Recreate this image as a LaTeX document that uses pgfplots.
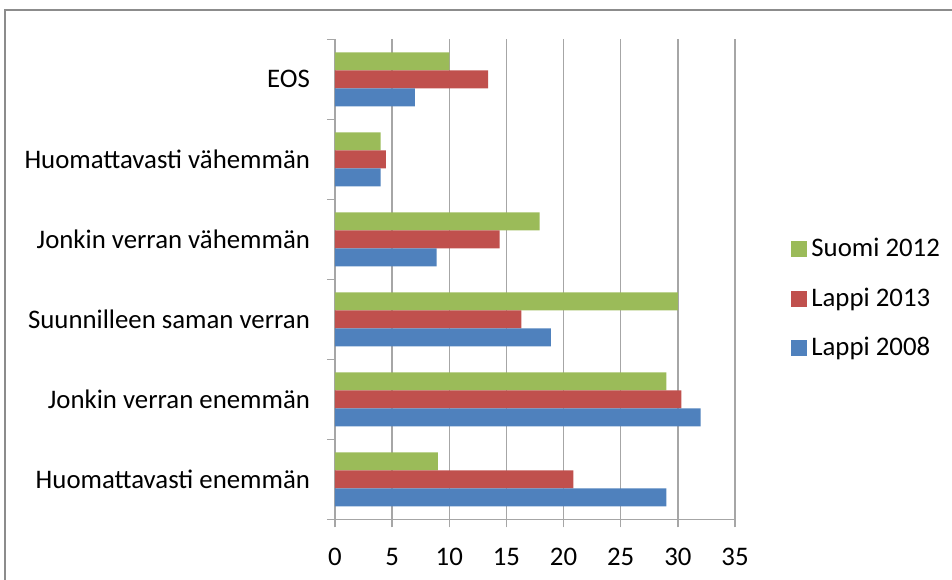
\documentclass[border=0pt]{standalone}
\usepackage{fontspec}
\setmainfont{Carlito}
\usepackage{pgfplots}
\pgfplotsset{compat=1.18}

\definecolor{sgreen}{HTML}{9BBB59}
\definecolor{sred}{HTML}{C0504D}
\definecolor{sblue}{HTML}{4F81BD}
\definecolor{gridgray}{HTML}{A6A6A6}
\definecolor{framegray}{HTML}{8C8C8C}

% 1 px of the reference = 0.5pt
\begin{document}
\begin{tikzpicture}
\useasboundingbox (-167.5pt,-29.85pt) rectangle (308.5pt,259.65pt);
\draw[framegray, line width=1.3pt] (-165pt,-40pt) -- (-165pt,254.65pt) -- (320pt,254.65pt);
\begin{axis}[
    at={(0,0)}, anchor=south west,
    scale only axis,
    width=200pt, height=240pt,
    xbar, bar width=9pt,
    xmin=0, xmax=35,
    ymin=-0.5, ymax=5.5,
    xtick={0,5,...,35},
    minor xtick={0,5,...,35},
    ytick={0,...,5},
    yticklabels={Huomattavasti enemmän, Jonkin verran enemmän, Suunnilleen saman verran,
                 Jonkin verran vähemmän, Huomattavasti vähemmän, EOS},
    minor ytick={-0.5,0.5,...,5.5},
    axis lines*=left,
    axis line style={gridgray, line width=0.75pt},
    xmajorgrids,
    major grid style={gridgray, line width=0.75pt},
    tick align=outside,
    tick style={gridgray, line width=0.75pt},
    major tick length=0pt,
    minor tick length=4pt,
    /pgf/number format/assume math mode=true,
    tick label style={font=\fontsize{13.4pt}{15pt}\selectfont, black},
    xticklabel style={yshift=-11pt},
    yticklabel style={xshift=-9pt},
    legend style={at={(1.14,0.46)}, anchor=west, draw=none, fill=none,
                  font=\fontsize{13.4pt}{15pt}\selectfont, row sep=10pt,
                  inner sep=0pt},
    legend cell align=left,
    legend image code/.code={\fill[#1] (0pt,-4pt) rectangle (8pt,4pt);},
]
\addplot[fill=sgreen, draw=none, bar shift=9pt] coordinates {
    (9.0,0) (29.0,1) (30.0,2) (17.9,3) (4.0,4) (10.0,5)};
\addlegendentry{Suomi 2012}
\addplot[fill=sred, draw=none, bar shift=0pt] coordinates {
    (20.85,0) (30.3,1) (16.3,2) (14.4,3) (4.45,4) (13.4,5)};
\addlegendentry{Lappi 2013}
\addplot[fill=sblue, draw=none, bar shift=-9pt] coordinates {
    (29.0,0) (32.0,1) (18.9,2) (8.9,3) (4.0,4) (7.0,5)};
\addlegendentry{Lappi 2008}
\end{axis}
\end{tikzpicture}
\end{document}
